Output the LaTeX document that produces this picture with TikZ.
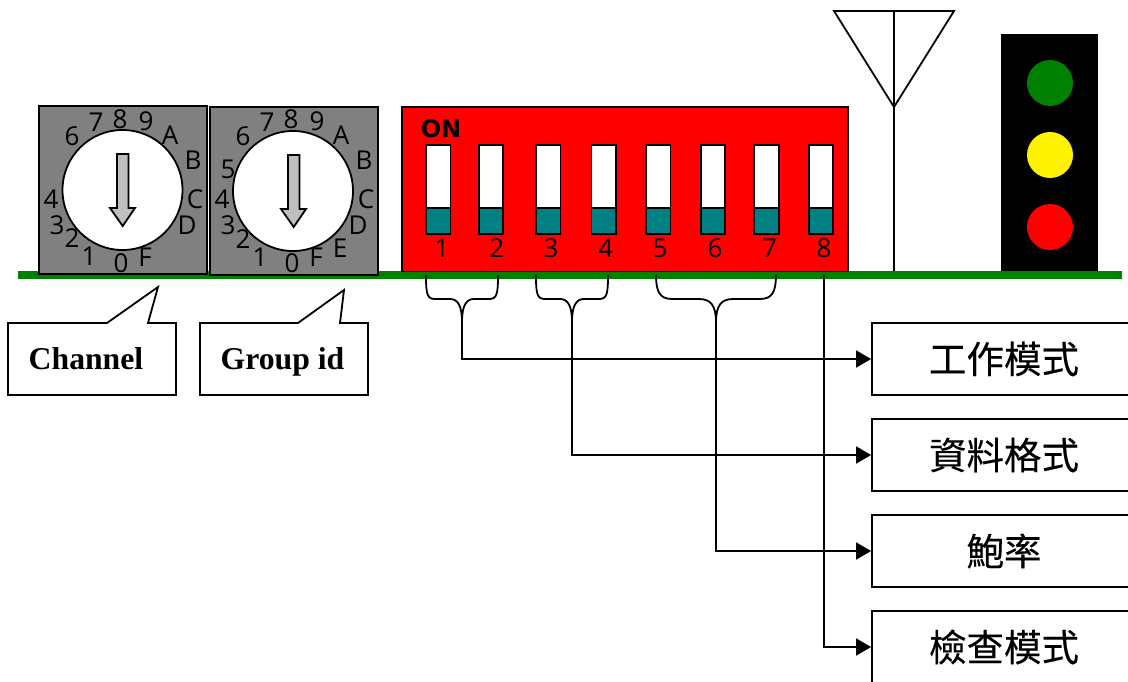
\documentclass[tikz,border=0pt]{standalone}
\usepackage{fontspec}
\setmainfont{Open Sans}
\newfontfamily\cjk[FakeBold=0.25]{Noto Sans CJK TC}
\newfontfamily\serifb{Liberation Serif}
\newfontfamily\dejab{DejaVu Sans}
\usetikzlibrary{arrows.meta}
\tikzset{
  ln/.style={draw=black,line width=1.8pt},
  dial/.style={ln,fill=dialgrey,rectangle,inner sep=0pt,minimum size=168pt},
  knob/.style={ln,fill=white,circle,inner sep=0pt,minimum size=120pt},
  digit/.style={inner sep=0pt,font=\fontsize{26}{26}\selectfont,text=black},
  call/.style={ln,fill=white,line join=miter},
  calltext/.style={inner sep=0pt,anchor=base,font=\serifb\bfseries\fontsize{31.7}{32}\selectfont},
  sw/.style={ln,fill=white,rectangle,inner sep=0pt,minimum width=24.5pt,minimum height=63pt},
  swlow/.style={ln,fill=teal,rectangle,inner sep=0pt,minimum width=24.5pt,minimum height=26pt},
  modebox/.style={ln,fill=white,rectangle,inner sep=0pt,minimum width=264pt,minimum height=72pt,text width=264pt,align=center,font=\cjk\fontsize{37.5}{37.5}\selectfont},
  conn/.style={draw=black,line width=1.8pt,line join=miter},
  toarrow/.style={conn,-{Triangle[length=15pt,width=17pt]}},
  lamp/.style={circle,inner sep=0pt,minimum size=46pt,draw=none},
}
\definecolor{dialgrey}{HTML}{808080}
\definecolor{teal}{HTML}{008080}
\definecolor{darkgreen}{HTML}{008000}
\begin{document}
\begin{tikzpicture}[x=1pt,y=-1pt]
\useasboundingbox (0,0) rectangle (1128,682);
\clip (0,0) rectangle (1128,682);
% base line
\node[fill=darkgreen,inner sep=0pt,minimum width=1104pt,minimum height=8pt] (base) at (570,275) {};
% rotary dials
\node[dial] (dialA) at (123,190) {};
\node[dial] (dialB) at (293.7,191) {};
\node[knob] (knobA) at (122.5,190) {};
\node[knob] (knobB) at (293,191) {};
\draw[ln,fill=black!25,line join=miter] (117,154) -- (128.5,154) -- (128.5,208) -- (135,208) -- (122.7,226) -- (110,208) -- (117,208) -- cycle;
\draw[ln,fill=black!25,line join=miter] (288,155) -- (299.5,155) -- (299.5,209) -- (306,209) -- (293.7,227) -- (281,209) -- (288,209) -- cycle;
\foreach \px/\py/\t in {72/136/6,96/122/7,120/119/8,146/121/9,170/135/A,193/160/B,195/199/C,187/225/D,145/257/F,121/263/0,89/256/1,72/238/2,57/225/3,51/199/4}
  \node[digit] (a\t) at (\px,\py) {\t};
\foreach \px/\py/\t in {243/136/6,267/122/7,291/119/8,317/121/9,341/135/A,364/160/B,366/199/C,358/225/D,340/248/E,316/257/F,292/263/0,260/257/1,243/239/2,228/225/3,222/199/4,228/169/5}
  \node[digit] (b\t) at (\px,\py) {\t};
% callouts
\draw[call] (8,323) -- (107,323) -- (158,287) -- (148,323) -- (176,323) -- (176,395) -- (8,395) -- cycle;
\draw[call] (200,323) -- (298,323) -- (344,290) -- (340,323) -- (368,323) -- (368,395) -- (200,395) -- cycle;
\node[calltext] (chan) at (86,369) {Channel};
\node[calltext] (grp) at (282.5,369) {Group id};
% DIP switch
\node[ln,fill=red,rectangle,inner sep=0pt,minimum width=446pt,minimum height=164.5pt] (dip) at (625,189.3) {};
\node[inner sep=0pt,font=\dejab\bfseries\fontsize{24}{24}\selectfont] (on) at (441,129) {ON};
\foreach \i/\sx/\dx in {1/438.2/441.7,2/491/496.7,3/548.3/551,4/603.7/605.7,5/658.3/660,6/713/715,7/766.5/769.5,8/821/824}{
  \node[sw] (s\i) at (\sx,176.5) {};
  \node[swlow] (t\i) at (\sx,221) {};
  \node[digit] (n\i) at (\dx,248) {\i};
}
% antenna
\draw[conn] (834,11) -- (954,11) -- (894,107) -- cycle;
\node[inner sep=0pt,minimum size=0pt] (antTop) at (894,11) {};
\draw[conn] (antTop) -- (894,271);
% traffic light
\node[fill=black,inner sep=0pt,minimum width=97pt,minimum height=237pt] (tl) at (1049.5,152.5) {};
\node[lamp,fill=darkgreen] (g) at (1050,83) {};
\node[lamp,fill=yellow] (y) at (1050,155) {};
\node[lamp,fill=red] (r) at (1050,227) {};
% target boxes
\node[modebox] (m1) at (1004,359) {工作模式};
\node[modebox] (m2) at (1004,455) {資料格式};
\node[modebox] (m3) at (1004,551) {鮑率};
\node[modebox] (m4) at (1004,647) {檢查模式};
% braces
\coordinate (c1) at (462,322);
\coordinate (c2) at (572,322);
\coordinate (c3) at (716,322);
\coordinate (c4) at (824,275);
\draw[conn] (426,275) .. controls (426,294) and (427,299) .. (435,299) -- (450,299) .. controls (458,299) and (462,306) .. (c1);
\draw[conn] (498,275) .. controls (498,294) and (497,299) .. (489,299) -- (474,299) .. controls (466,299) and (462,306) .. (c1);
\draw[conn] (536,275) .. controls (536,294) and (537,299) .. (545,299) -- (560,299) .. controls (568,299) and (572,306) .. (c2);
\draw[conn] (608,275) .. controls (608,294) and (607,299) .. (599,299) -- (584,299) .. controls (576,299) and (572,306) .. (c2);
\draw[conn] (656,275) .. controls (656,292) and (660,299) .. (672,299) -- (699,299) .. controls (711,299) and (716,306) .. (c3);
\draw[conn] (776,275) .. controls (776,292) and (772,299) .. (760,299) -- (733,299) .. controls (721,299) and (716,306) .. (c3);
% connectors
\draw[toarrow] (c1) |- (m1.west);
\draw[toarrow] (c2) |- (m2.west);
\draw[toarrow] (c3) |- (m3.west);
\draw[toarrow] (c4) |- (m4.west);
\end{tikzpicture}
\end{document}
